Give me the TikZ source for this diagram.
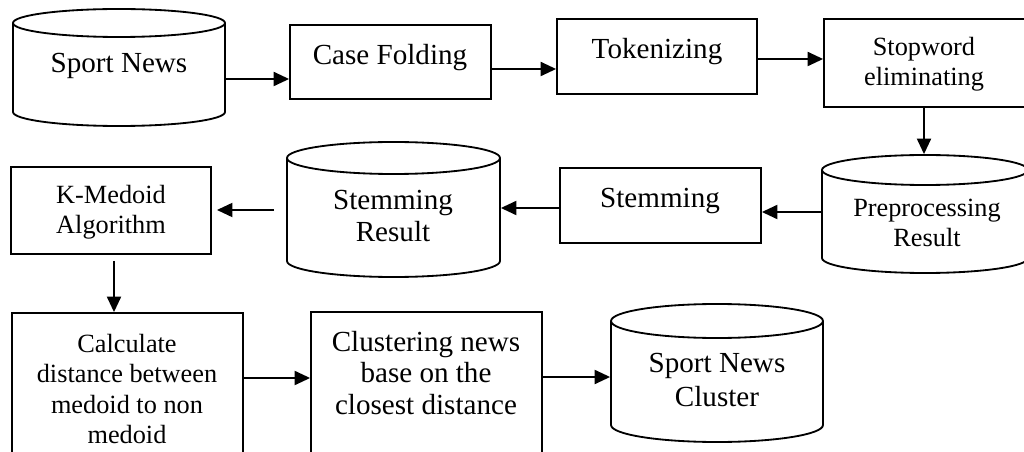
\documentclass[tikz,border=0pt]{standalone}
\usepackage{fontspec}
\setmainfont{Liberation Serif}
\usetikzlibrary{arrows.meta,fit}
\newcommand\mycyl[6]{%
  \draw (#2,#4) -- (#2,#5) arc[start angle=180,end angle=0,x radius={(#3-#2)/2},y radius=#6] -- (#3,#4);
  \draw ({(#2+#3)/2},#4) ellipse[x radius={(#3-#2)/2},y radius=#6];
  \node[fit={(#2,#4-#6) (#3,#5+#6)}, inner sep=0pt] (#1) {};}
\begin{document}
\begin{tikzpicture}[x=0.025cm,y=-0.025cm,line width=1.3pt,
  boxnode/.style={draw, inner sep=0pt},
  txt/.style={align=center, inner sep=0pt, font=\fontsize{20.7}{22.5}\selectfont},
  smalltxt/.style={align=center, inner sep=0pt, font=\fontsize{18.7}{21.7}\selectfont},
  arr/.style={-{Triangle[length=11pt,width=10pt]}}]
\useasboundingbox (0,0) rectangle (1024,452);
\clip (0,0) rectangle (1024,452);
% cylinders
\mycyl{sn}{13}{225}{23}{112}{14}
\mycyl{pr}{822}{1028}{170}{258}{15}
\mycyl{sr}{287}{500}{158}{261}{16}
\mycyl{snc}{611}{823}{321}{425}{17}
% boxes
\node[boxnode, fit={(290,25) (491,99)}] (cf) {};
\node[boxnode, fit={(557,19) (757,94)}] (tk) {};
\node[boxnode, fit={(824,19) (1032,107)}] (sw) {};
\node[boxnode, fit={(560,168) (761,243)}] (st) {};
\node[boxnode, fit={(11,167) (211,254)}] (km) {};
\node[boxnode, fit={(12,313) (243,480)}] (ca) {};
\node[boxnode, fit={(311,312) (542,480)}] (cl) {};
% texts
\node[txt] (tsn) at (119,66) {Sport News};
\node[txt] (tcf) at (390,58) {Case Folding};
\node[txt] (ttk) at (657,52) {Tokenizing};
\node[smalltxt] (tsw) at (924,64) {Stopword\\eliminating};
\node[smalltxt] (tpr) at (927,223) {Preprocessing\\Result};
\node[txt] (tst) at (660,201) {Stemming};
\node[txt] (tsr) at (393,216) {Stemming\\Result};
\node[smalltxt] (tkm) at (111,212) {K-Medoid\\Algorithm};
\node[smalltxt] (tca) at (127,389) {Calculate\\distance between\\medoid to non\\medoid};
\node[txt] (tcl) at (426,373) {Clustering news\\base on the\\closest distance};
\node[txt, font=\fontsize{20.7}{24}\selectfont] (tsnc) at (717,380) {Sport News\\Cluster};
% connectors
\draw[arr] (sn.east |- 0,79) -- (cf.west |- 0,79);
\draw[arr] (cf.east |- 0,69) -- (tk.west |- 0,69);
\draw[arr] (tk.east |- 0,59) -- (sw.west |- 0,59);
\draw[arr] (sw.south -| 924,0) -- (pr.north -| 924,0);
\draw[arr] (pr.west |- 0,212) -- (st.east |- 0,212);
\draw[arr] (st.west |- 0,208) -- (sr.east |- 0,208);
\draw[arr, shorten <=8.5pt, shorten >=3.6pt] (sr.west |- 0,210) -- (km.east |- 0,210);
\draw[arr, shorten <=4.3pt] (km.south -| 114,0) -- (ca.north -| 114,0);
\draw[arr] (ca.east |- 0,378) -- (cl.west |- 0,378);
\draw[arr] (cl.east |- 0,377) -- (snc.west |- 0,377);
\end{tikzpicture}
\end{document}
